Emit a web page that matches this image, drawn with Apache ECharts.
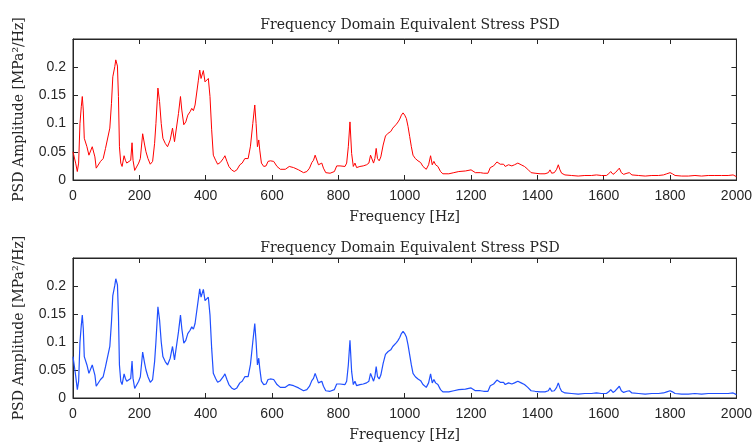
<!DOCTYPE html>
<html>
<head>
<meta charset="utf-8">
<script src="https://cdn.jsdelivr.net/npm/echarts@6/dist/echarts.min.js"></script>
<style>
  html, body { margin: 0; padding: 0; background: #fff; }
  #chart { width: 755px; height: 445px; }
</style>
</head>
<body>
<div id="chart"></div>
<script>
// frequency axis samples [Hz]
var freqHz = [
    0, 8, 13, 17, 21, 25, 28, 31, 34, 38,
    42, 48, 53, 58, 62, 66, 70, 76, 83, 91,
    98, 103, 111, 116, 120, 126, 129, 134, 137, 140,
    144, 148, 154, 158, 162, 168, 174, 178, 181, 186,
    192, 198, 203, 210, 216, 220, 226, 233, 240, 246,
    250, 256, 261, 266, 271, 278, 285, 293, 300, 306,
    311, 318, 324, 328, 334, 340, 346, 353, 358, 363,
    368, 373, 378, 382, 386, 390, 393, 398, 403, 408,
    413, 418, 423, 430, 436, 444, 453, 458, 464, 470,
    478, 486, 494, 503, 510, 518, 528, 535, 542, 548,
    552, 556, 560, 563, 568, 575, 582, 588, 595, 605,
    615, 625, 640, 652, 665, 680, 695, 705, 713, 720,
    725, 730, 735, 740, 745, 750, 755, 762, 775, 788,
    795, 805, 820, 825, 830, 835, 840, 845, 850, 855,
    865, 875, 885, 892, 897, 902, 906, 910, 914, 918,
    923, 928, 935, 942, 950, 958, 964, 970, 975, 980,
    985, 990, 995, 1000, 1005, 1010, 1015, 1020, 1025, 1032,
    1040, 1048, 1055, 1065, 1072, 1078, 1083, 1088, 1093, 1100,
    1108, 1115, 1133, 1148, 1163, 1183, 1200, 1213, 1228, 1238,
    1251, 1258, 1268, 1278, 1288, 1298, 1303, 1313, 1323, 1331,
    1341, 1351, 1361, 1371, 1381, 1393, 1408, 1423, 1433, 1438,
    1443, 1451, 1458, 1463, 1468, 1473, 1483, 1503, 1523, 1543,
    1563, 1578, 1593, 1608, 1615, 1621, 1628, 1635, 1641, 1647,
    1653, 1660, 1670, 1677, 1685, 1705, 1725, 1745, 1765, 1780,
    1790, 1800, 1807, 1815, 1835, 1855, 1875, 1895, 1915, 1935,
    1955, 1975, 1990, 2000
];

// top panel (red)
var psdTop = [
    0.05, 0.03, 0.015, 0.03, 0.1, 0.13, 0.148, 0.124, 0.074, 0.074,
    0.059, 0.044, 0.043, 0.059, 0.059, 0.041, 0.021, 0.024, 0.033, 0.038,
    0.056, 0.059, 0.092, 0.136, 0.183, 0.201, 0.213, 0.202, 0.148, 0.059,
    0.03, 0.024, 0.043, 0.035, 0.03, 0.033, 0.035, 0.066, 0.035, 0.017,
    0.015, 0.03, 0.038, 0.082, 0.062, 0.05, 0.038, 0.028, 0.033, 0.065,
    0.1, 0.163, 0.139, 0.1, 0.074, 0.065, 0.059, 0.071, 0.092, 0.068,
    0.071, 0.118, 0.148, 0.124, 0.098, 0.103, 0.115, 0.121, 0.127, 0.123,
    0.133, 0.136, 0.177, 0.195, 0.18, 0.183, 0.194, 0.174, 0.174, 0.18,
    0.148, 0.089, 0.044, 0.035, 0.028, 0.031, 0.038, 0.043, 0.033, 0.024,
    0.018, 0.015, 0.018, 0.027, 0.03, 0.038, 0.038, 0.06, 0.1, 0.133,
    0.1, 0.059, 0.071, 0.053, 0.03, 0.024, 0.025, 0.033, 0.034, 0.033,
    0.024, 0.019, 0.019, 0.024, 0.022, 0.018, 0.013, 0.015, 0.021, 0.031,
    0.035, 0.044, 0.041, 0.027, 0.024, 0.03, 0.021, 0.013, 0.012, 0.015,
    0.025, 0.025, 0.024, 0.03, 0.059, 0.103, 0.047, 0.024, 0.03, 0.022,
    0.024, 0.025, 0.027, 0.03, 0.044, 0.041, 0.03, 0.038, 0.056, 0.038,
    0.034, 0.041, 0.062, 0.078, 0.083, 0.086, 0.092, 0.095, 0.099, 0.103,
    0.108, 0.115, 0.119, 0.115, 0.109, 0.095, 0.077, 0.059, 0.044, 0.038,
    0.034, 0.031, 0.024, 0.019, 0.027, 0.043, 0.027, 0.033, 0.027, 0.024,
    0.015, 0.011, 0.011, 0.013, 0.015, 0.016, 0.018, 0.013, 0.013, 0.012,
    0.012, 0.022, 0.025, 0.032, 0.028, 0.028, 0.024, 0.027, 0.025, 0.027,
    0.03, 0.027, 0.024, 0.019, 0.013, 0.012, 0.011, 0.011, 0.013, 0.018,
    0.012, 0.013, 0.019, 0.027, 0.018, 0.012, 0.009, 0.008, 0.007, 0.008,
    0.008, 0.009, 0.008, 0.008, 0.011, 0.015, 0.01, 0.013, 0.015, 0.021,
    0.013, 0.01, 0.012, 0.013, 0.009, 0.008, 0.007, 0.008, 0.008, 0.009,
    0.011, 0.013, 0.011, 0.008, 0.007, 0.007, 0.008, 0.007, 0.008, 0.008,
    0.008, 0.008, 0.009, 0.006
];

// bottom panel (blue)
var psdBottom = [
    0.074, 0.04, 0.015, 0.03, 0.1, 0.13, 0.148, 0.124, 0.074, 0.074,
    0.059, 0.044, 0.043, 0.059, 0.059, 0.041, 0.021, 0.024, 0.033, 0.038,
    0.056, 0.059, 0.092, 0.136, 0.183, 0.201, 0.213, 0.202, 0.148, 0.059,
    0.03, 0.024, 0.043, 0.035, 0.03, 0.033, 0.035, 0.066, 0.035, 0.017,
    0.015, 0.03, 0.038, 0.082, 0.062, 0.05, 0.038, 0.028, 0.033, 0.065,
    0.1, 0.163, 0.139, 0.1, 0.074, 0.065, 0.059, 0.071, 0.092, 0.068,
    0.071, 0.118, 0.148, 0.124, 0.098, 0.103, 0.115, 0.121, 0.127, 0.123,
    0.133, 0.136, 0.177, 0.195, 0.18, 0.183, 0.194, 0.174, 0.174, 0.18,
    0.148, 0.089, 0.044, 0.035, 0.028, 0.031, 0.038, 0.043, 0.033, 0.024,
    0.018, 0.015, 0.018, 0.027, 0.03, 0.038, 0.038, 0.06, 0.1, 0.133,
    0.1, 0.059, 0.071, 0.053, 0.03, 0.024, 0.025, 0.033, 0.034, 0.033,
    0.024, 0.019, 0.019, 0.024, 0.022, 0.018, 0.013, 0.015, 0.021, 0.031,
    0.035, 0.044, 0.041, 0.027, 0.024, 0.03, 0.021, 0.013, 0.012, 0.015,
    0.025, 0.025, 0.024, 0.03, 0.059, 0.103, 0.047, 0.024, 0.03, 0.022,
    0.024, 0.025, 0.027, 0.03, 0.044, 0.041, 0.03, 0.038, 0.056, 0.038,
    0.034, 0.041, 0.062, 0.078, 0.083, 0.086, 0.092, 0.095, 0.099, 0.103,
    0.108, 0.115, 0.119, 0.115, 0.109, 0.095, 0.077, 0.059, 0.044, 0.038,
    0.034, 0.031, 0.024, 0.019, 0.027, 0.043, 0.027, 0.033, 0.027, 0.024,
    0.015, 0.011, 0.011, 0.013, 0.015, 0.016, 0.018, 0.013, 0.013, 0.012,
    0.012, 0.022, 0.025, 0.032, 0.028, 0.028, 0.024, 0.027, 0.025, 0.027,
    0.03, 0.027, 0.024, 0.019, 0.013, 0.012, 0.011, 0.011, 0.013, 0.018,
    0.012, 0.013, 0.019, 0.027, 0.018, 0.012, 0.009, 0.008, 0.007, 0.008,
    0.008, 0.009, 0.008, 0.008, 0.011, 0.015, 0.01, 0.013, 0.015, 0.021,
    0.013, 0.01, 0.012, 0.013, 0.009, 0.008, 0.007, 0.008, 0.008, 0.009,
    0.011, 0.013, 0.011, 0.008, 0.007, 0.007, 0.008, 0.007, 0.008, 0.008,
    0.008, 0.008, 0.009, 0.006
];

var yTicks = [0, 0.05, 0.1, 0.15, 0.2];
var titleText = 'Frequency Domain Equivalent Stress PSD';
var xLabel = 'Frequency [Hz]';
var yLabel = 'PSD Amplitude [MPa\u00b2/Hz]';

var axisColor = '#262626';
var serif = '"DejaVu Serif", "Liberation Serif", serif';
var sans = '"Liberation Sans", Arial, sans-serif';

function pairs(vals) {
    return freqHz.map(function (f, i) { return [f, vals[i]]; });
}

function xAxisFor(grid, withLabels) {
    return {
        type: 'value', gridIndex: grid, min: 0, max: 2000, interval: 200,
        position: withLabels ? 'bottom' : 'top',
        name: withLabels ? xLabel : '', nameLocation: 'middle', nameGap: 30,
        nameTextStyle: { fontFamily: serif, fontSize: 14, color: axisColor },
        axisLine: { show: true, onZero: false, lineStyle: { color: axisColor, width: 1 } },
        axisTick: { show: true, inside: true, length: 5, lineStyle: { color: axisColor } },
        axisLabel: {
            show: withLabels, color: axisColor, fontFamily: sans, fontSize: 14, margin: 9,
            formatter: function (v) { return String(v); }
        },
        splitLine: { show: false }
    };
}

function yAxisFor(grid, withLabels) {
    return {
        type: 'value', gridIndex: grid, min: 0, max: 0.25, interval: 0.05,
        position: withLabels ? 'left' : 'right',
        name: withLabels ? yLabel : '', nameLocation: 'middle', nameGap: 47,
        nameTextStyle: { fontFamily: serif, fontSize: 14, color: axisColor },
        axisLine: { show: true, onZero: false, lineStyle: { color: axisColor, width: 1 } },
        axisTick: {
            show: true, inside: true, length: 5, lineStyle: { color: axisColor },
            customValues: yTicks
        },
        axisLabel: {
            show: withLabels, color: axisColor, fontFamily: sans, fontSize: 14, margin: 7,
            customValues: yTicks,
            formatter: function (v) { return String(+v.toFixed(2)); }
        },
        splitLine: { show: false }
    };
}

var chart = echarts.init(document.getElementById('chart'), null, { renderer: 'canvas' });

chart.setOption({
    animation: false,
    backgroundColor: '#fff',
    title: [
        { text: titleText, left: 405, top: 13, textAlign: 'center',
          textStyle: { fontFamily: serif, fontSize: 14, fontWeight: 'normal', color: axisColor } },
        { text: titleText, left: 405, top: 236, textAlign: 'center',
          textStyle: { fontFamily: serif, fontSize: 14, fontWeight: 'normal', color: axisColor } }
    ],
    grid: [
        { left: 73, right: 17, top: 39, height: 141, show: true, borderColor: axisColor, borderWidth: 1 },
        { left: 73, right: 17, top: 258, height: 140, show: true, borderColor: axisColor, borderWidth: 1 }
    ],
    xAxis: [xAxisFor(0, true), xAxisFor(0, false), xAxisFor(1, true), xAxisFor(1, false)],
    yAxis: [yAxisFor(0, true), yAxisFor(0, false), yAxisFor(1, true), yAxisFor(1, false)],
    series: [
        {
            type: 'line', xAxisIndex: 0, yAxisIndex: 0,
            data: pairs(psdTop), showSymbol: false,
            lineStyle: { color: '#ff0000', width: 1 }
        },
        {
            type: 'line', xAxisIndex: 2, yAxisIndex: 2,
            data: pairs(psdBottom), showSymbol: false,
            lineStyle: { color: '#1f4fff', width: 1.2 }
        }
    ]
});
</script>
</body>
</html>
